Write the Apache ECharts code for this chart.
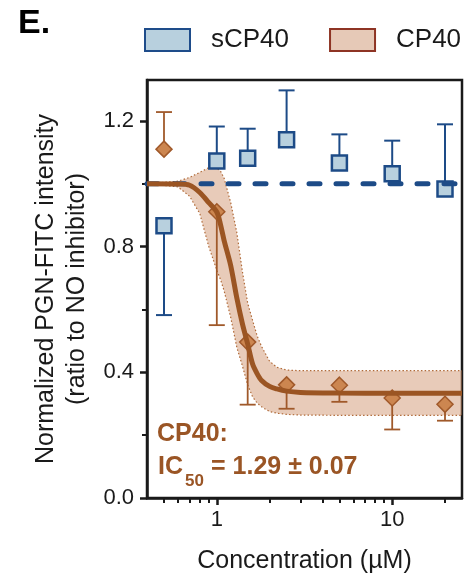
<!DOCTYPE html>
<html><head><meta charset="utf-8">
<script src="https://cdn.jsdelivr.net/npm/echarts@6/dist/echarts.min.js"></script>
<style>html,body{margin:0;padding:0;background:#fff}#c{width:475px;height:579px}</style>
</head><body><div id="c"></div>
<script>
// ---- data ----
const conc = [0.5, 1, 1.5, 2.5, 5, 10, 20];
const sCP40 = [0.866, 1.072, 1.081, 1.140, 1.066, 1.032, 0.983];
const sCP40ErrEnd = [0.582, 1.182, 1.175, 1.297, 1.157, 1.137, 1.189];
const CP40 = [1.110, 0.911, 0.496, 0.360, 0.359, 0.318, 0.298];
const CP40ErrEnd = [1.228, 0.550, 0.297, 0.284, 0.306, 0.218, 0.246];
const sCP40FitX = [0.4, 25];
const sCP40Fit = [1.0, 1.0];
const fitX =       [0.4, 0.6, 0.7, 0.8, 0.9, 1.0, 1.05, 1.1, 1.2, 1.3, 1.4, 1.5, 1.6, 1.7, 1.8, 2.0, 2.2, 2.5, 3, 5, 10, 25];
const CP40Fit =    [1.0, 0.999, 0.995, 0.972, 0.94, 0.91, 0.87, 0.82, 0.74, 0.637, 0.554, 0.49, 0.426, 0.395, 0.374, 0.355, 0.347, 0.340, 0.336, 0.334, 0.333, 0.333];
const CP40BandHi = [1.0, 1.008, 1.02, 1.036, 1.051, 1.05, 1.04, 1.018, 0.94, 0.845, 0.72, 0.62, 0.565, 0.515, 0.482, 0.435, 0.416, 0.407, 0.405, 0.405, 0.405, 0.405];
const CP40BandLo = [1.0, 0.99, 0.96, 0.905, 0.80, 0.725, 0.695, 0.66, 0.575, 0.48, 0.42, 0.36, 0.322, 0.302, 0.29, 0.275, 0.27, 0.266, 0.264, 0.263, 0.263, 0.263];
const xMajorTicks = [1, 10];
const xMinorTicks = [0.5, 0.6, 0.7, 0.8, 0.9, 2, 3, 4, 5, 6, 7, 8, 9, 20];
const yMajorTicks = [0, 0.4, 0.8, 1.2];
const yMinorTicks = [0.2, 0.6, 1.0];

const FONT = "'Liberation Sans', Arial, Helvetica, sans-serif";
const INK = '#1a1a1a';
const BLUE = '#1d4b87', BLUE_FILL = '#b8d0de';
const BROWN = '#9b5523', DIA_FILL = '#cc8650', DIA_EDGE = '#a0592a';
const TXT_BROWN = '#9a5525';

function errBars(ys, ends, color, w) {
  return {
    type: 'custom', silent: true,
    data: conc.map((x, i) => [x, ys[i], ends[i]]),
    encode: { x: 0, y: 1 },
    renderItem: (p, api) => {
      const a = api.coord([api.value(0), api.value(1)]);
      const b = api.coord([api.value(0), api.value(2)]);
      const h = 8;
      return { type: 'group', children: [
        { type: 'line', shape: { x1: a[0], y1: a[1], x2: b[0], y2: b[1] }, style: { stroke: color, lineWidth: w } },
        { type: 'line', shape: { x1: b[0] - h, y1: b[1], x2: b[0] + h, y2: b[1] }, style: { stroke: color, lineWidth: w } }
      ]};
    }
  };
}

const chart = echarts.init(document.getElementById('c'), null, { renderer: 'canvas' });
chart.setOption({
  animation: false,
  backgroundColor: '#fff',
  textStyle: { fontFamily: FONT },
  grid: { left: 147, right: 13, top: 80, bottom: 79, show: true, borderColor: INK, borderWidth: 2.5, backgroundColor: 'transparent' },
  legend: {
    left: 144, top: 27, padding: 0, itemGap: 40, itemWidth: 45, itemHeight: 22, icon: 'rect',
    selectedMode: false,
    textStyle: { fontSize: 26, color: INK, fontFamily: FONT, padding: [0, 0, 0, 16] },
    data: [
      { name: 'sCP40', itemStyle: { color: BLUE_FILL, borderColor: '#1e4c8a', borderWidth: 2 } },
      { name: 'CP40', itemStyle: { color: '#e6c9b7', borderColor: '#8e3424', borderWidth: 2 } }
    ]
  },
  xAxis: [
    { type: 'log', logBase: 10, min: 0.4, max: 25, position: 'bottom',
      axisLine: { show: true, lineStyle: { color: INK, width: 2.5 } },
      axisTick: { show: true, customValues: xMajorTicks, length: 7, lineStyle: { color: INK, width: 2.5 } },
      axisLabel: { customValues: xMajorTicks, fontSize: 22, color: INK, margin: 11, fontFamily: FONT, formatter: v => String(v) },
      splitLine: { show: false }, minorTick: { show: false },
      name: 'Concentration (µM)', nameLocation: 'middle', nameGap: 51,
      nameTextStyle: { fontSize: 25, color: INK, fontFamily: FONT } },
    { type: 'log', logBase: 10, min: 0.4, max: 25, position: 'bottom',
      axisLine: { show: false },
      axisTick: { show: true, customValues: xMinorTicks, length: 5, lineStyle: { color: INK, width: 2 } },
      axisLabel: { show: false }, splitLine: { show: false } }
  ],
  yAxis: [
    { type: 'value', min: 0, max: 1.33, position: 'left',
      axisLine: { show: true, lineStyle: { color: INK, width: 2.5 } },
      axisTick: { show: true, customValues: yMajorTicks, length: 7, lineStyle: { color: INK, width: 2.5 } },
      axisLabel: { customValues: yMajorTicks, fontSize: 22, color: INK, margin: 13, fontFamily: FONT, formatter: v => v.toFixed(1) },
      splitLine: { show: false },
      name: 'Normalized PGN-FITC intensity\n(ratio to NO inhibitor)', nameLocation: 'middle', nameRotate: 90, nameGap: 48,
      nameTextStyle: { fontSize: 25, lineHeight: 31, color: INK, fontFamily: FONT, align: 'center' } },
    { type: 'value', min: 0, max: 1.33, position: 'left',
      axisLine: { show: false },
      axisTick: { show: true, customValues: yMinorTicks, length: 5, lineStyle: { color: INK, width: 2 } },
      axisLabel: { show: false }, splitLine: { show: false } }
  ],
  series: [
    { type: 'line', name: 'sCP40 fit', silent: true, symbol: 'none',
      data: sCP40FitX.map((x, i) => [x, sCP40Fit[i]]),
      lineStyle: { color: BLUE, width: 5, type: [11, 16], cap: 'round' } },
    { type: 'custom', silent: true, data: [[1, 1]],
      renderItem: (p, api) => {
        const hi = fitX.map((x, i) => api.coord([x, CP40BandHi[i]]));
        const lo = fitX.map((x, i) => api.coord([x, CP40BandLo[i]]));
        const poly = hi.concat(lo.slice().reverse());
        const edge = { stroke: '#b06a38', lineWidth: 1.2, lineDash: [1.5, 2.2], fill: null };
        return { type: 'group', children: [
          { type: 'polygon', shape: { points: poly }, style: { fill: 'rgba(205,140,100,0.45)' } },
          { type: 'polyline', shape: { points: hi }, style: edge },
          { type: 'polyline', shape: { points: lo }, style: edge }
        ]};
      } },
    { type: 'line', name: 'CP40 fit', silent: true, symbol: 'none', smooth: 0.3,
      data: fitX.map((x, i) => [x, CP40Fit[i]]),
      lineStyle: { color: BROWN, width: 5 } },
    errBars(sCP40, sCP40ErrEnd, BLUE, 2),
    errBars(CP40, CP40ErrEnd, DIA_EDGE, 1.8),
    { type: 'scatter', name: 'sCP40', symbol: 'rect', symbolSize: 15,
      data: conc.map((x, i) => [x, sCP40[i]]),
      itemStyle: { color: BLUE_FILL, borderColor: BLUE, borderWidth: 2.5, opacity: 1 } },
    { type: 'scatter', name: 'CP40', symbol: 'diamond', symbolSize: 16,
      data: conc.map((x, i) => [x, CP40[i]]),
      itemStyle: { color: DIA_FILL, borderColor: DIA_EDGE, borderWidth: 1.5, opacity: 1 } }
  ],
  graphic: [
    { type: 'text', left: 18, top: 7, style: { text: 'E.', font: 'bold 34px ' + FONT, fill: '#000' } },
    { type: 'text', left: 157, top: 422, z: 10, style: { text: 'CP40:', font: 'bold 25px ' + FONT, fill: TXT_BROWN } },
    { type: 'text', left: 158, top: 455, z: 10, style: { text: 'IC', font: 'bold 25px ' + FONT, fill: TXT_BROWN } },
    { type: 'text', left: 185, top: 473, z: 10, style: { text: '50', font: 'bold 17px ' + FONT, fill: TXT_BROWN } },
    { type: 'text', left: 211, top: 455, z: 10, style: { text: '= 1.29 ± 0.07', font: 'bold 25px ' + FONT, fill: TXT_BROWN } }
  ]
});
</script>
</body></html>
